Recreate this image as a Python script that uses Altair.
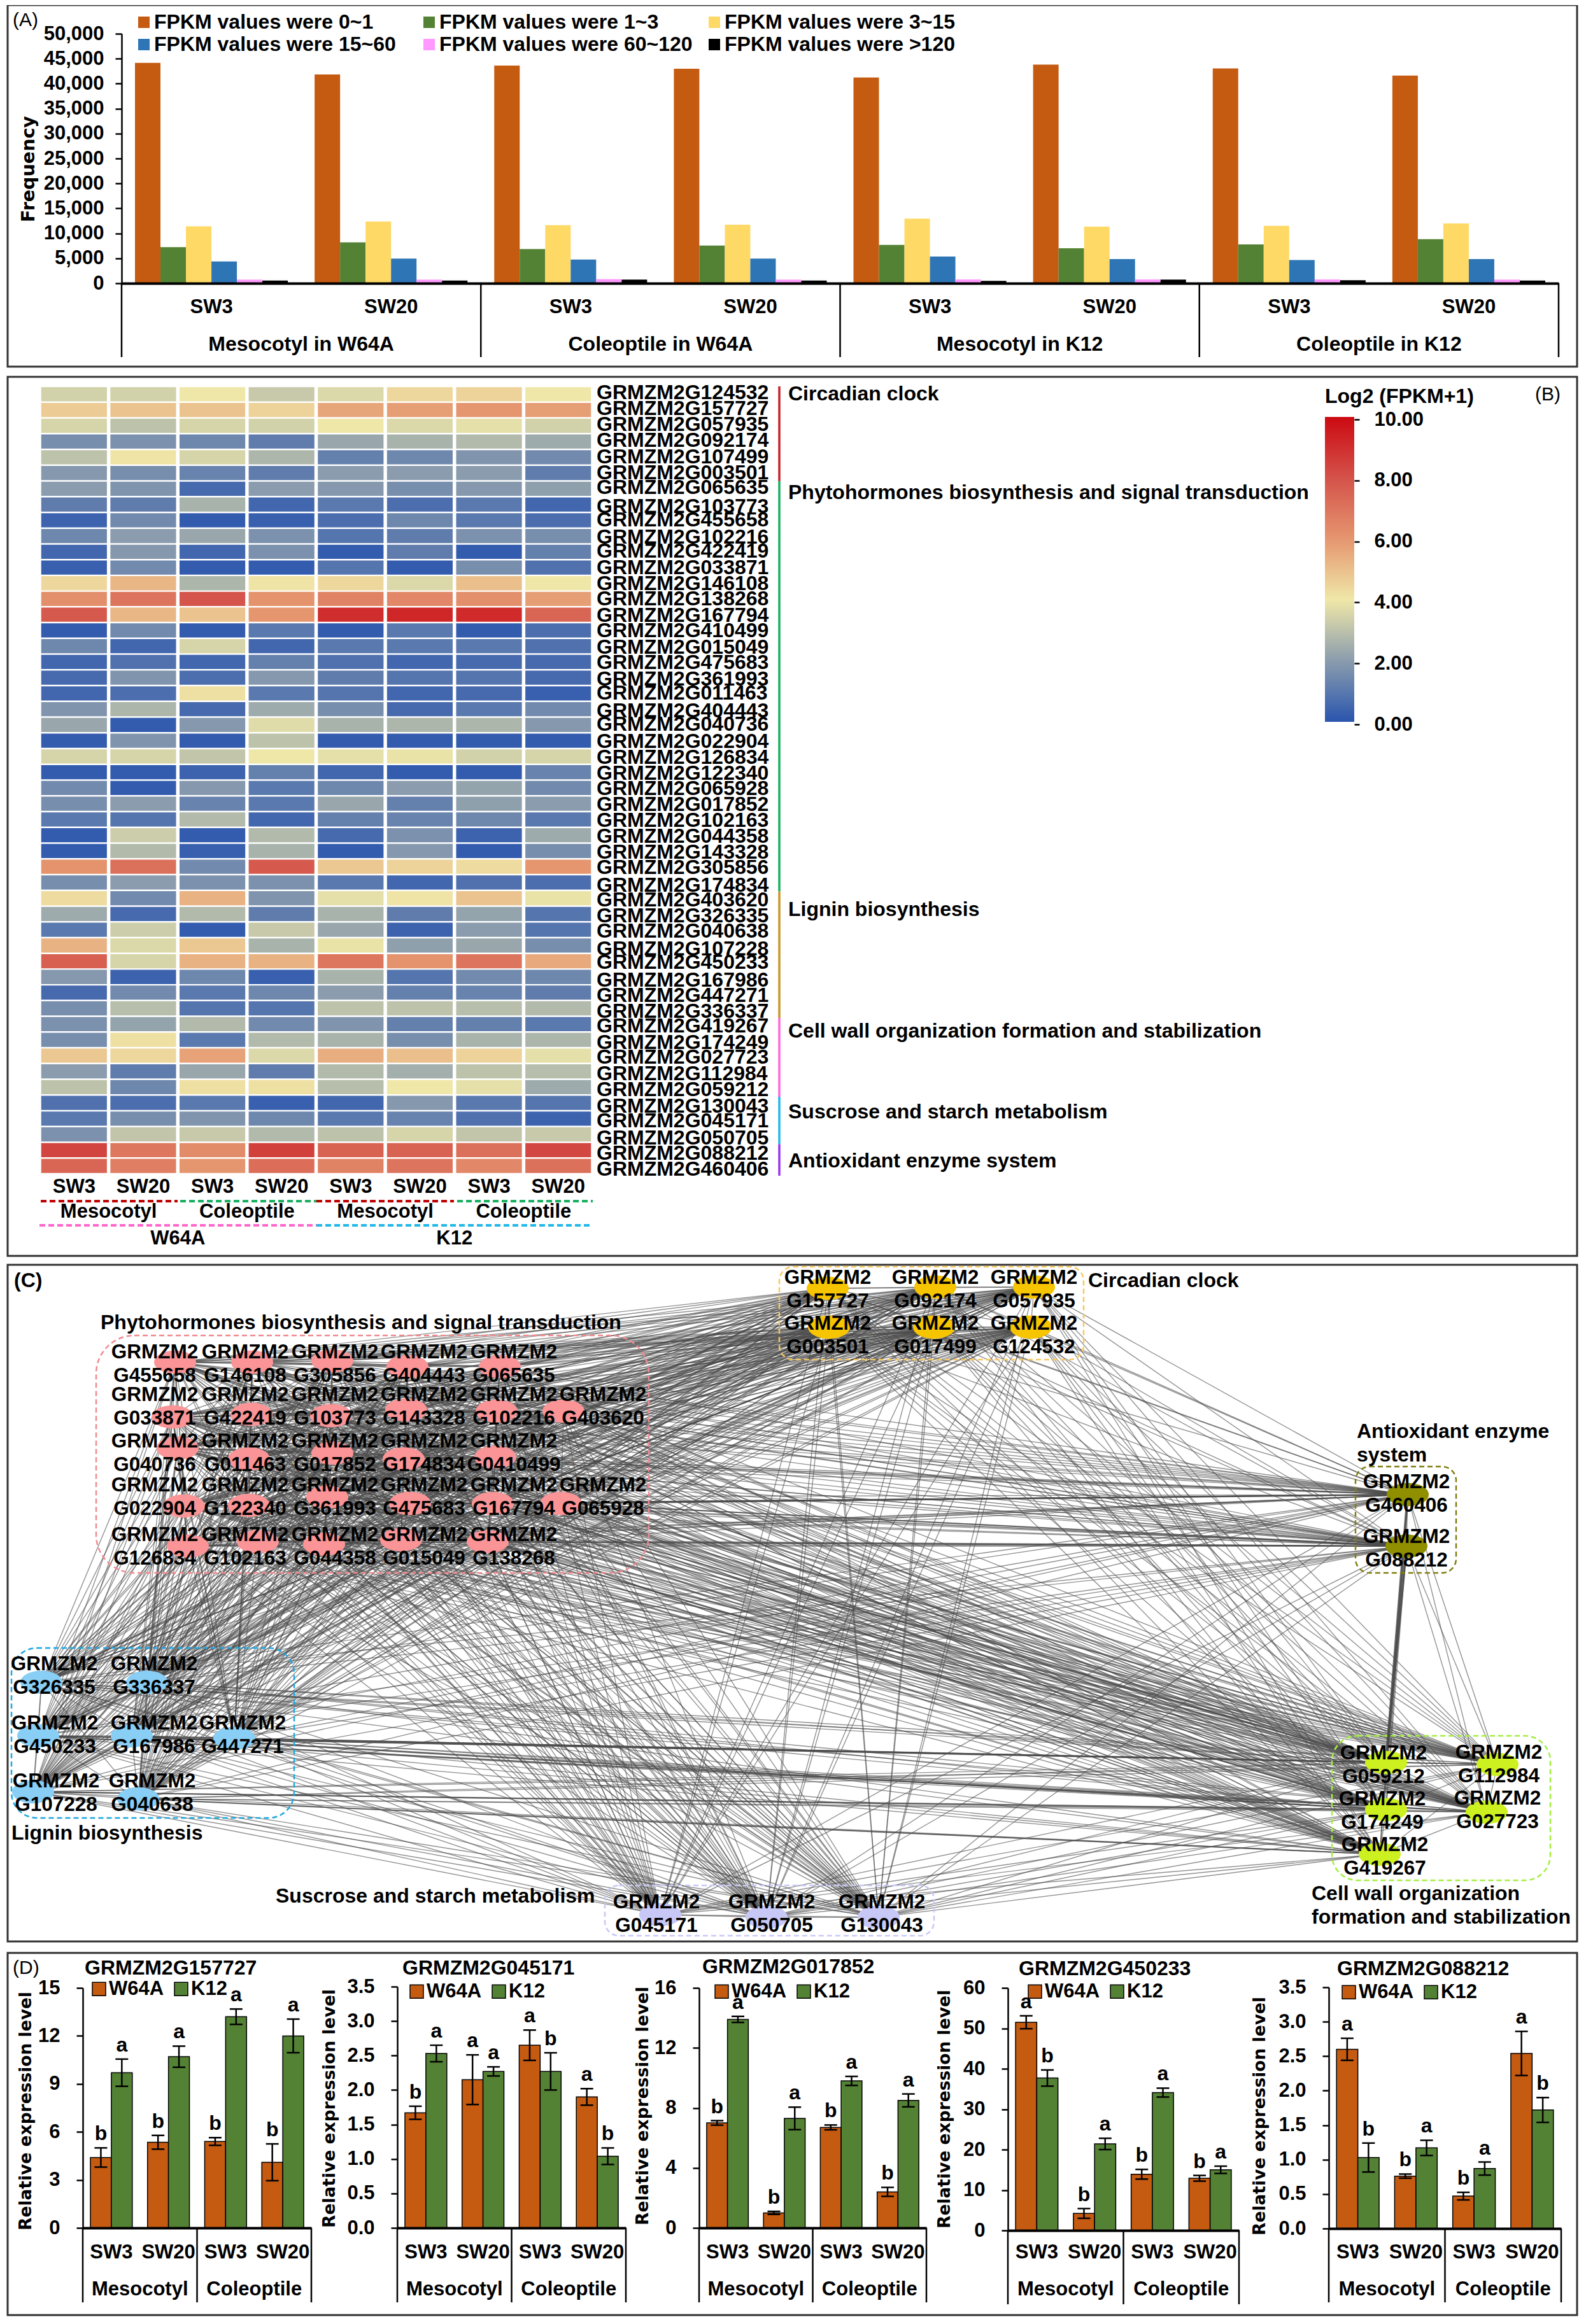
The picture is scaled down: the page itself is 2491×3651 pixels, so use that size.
import altair as alt
import pandas as pd
import itertools

FONT = "Liberation Sans"
WIDE = "DejaVu Sans"
W, H = 2475, 3635
RX = alt.Scale(domain=[0, 2491], range=[-8, 2483])
RY = alt.Scale(domain=[0, 3651], range=[-8, 3643])

# ---------- Panel A data
a_series = ["FPKM values were 0~1", "FPKM values were 1~3", "FPKM values were 3~15",
            "FPKM values were 15~60", "FPKM values were 60~120", "FPKM values were >120"]
a_colors = ["#c55a11", "#548235", "#ffd966", "#2e75b6", "#ff99ff", "#000000"]
a_groups = ["M-W-3", "M-W-20", "C-W-3", "C-W-20", "M-K-3", "M-K-20", "C-K-3", "C-K-20"]
a_sub = ["SW3", "SW20"] * 4
a_tissue = ["Mesocotyl in W64A", "Coleoptile in W64A", "Mesocotyl in K12", "Coleoptile in K12"]
a_vals = [
    [44150, 7240, 11400, 4360, 720, 530],
    [41850, 8200, 12370, 4940, 720, 530],
    [43620, 6860, 11650, 4750, 815, 720],
    [43000, 7570, 11750, 4940, 720, 530],
    [41230, 7670, 12940, 5370, 770, 480],
    [43800, 7000, 11360, 4840, 770, 720],
    [43050, 7770, 11500, 4650, 770, 620],
    [41600, 8820, 11980, 4840, 720, 530],
]

# ---------- Panel B data
b_genes = ["G124532","G157727","G057935","G092174","G107499","G003501","G065635","G103773","G455658","G102216",
           "G422419","G033871","G146108","G138268","G167794","G410499","G015049","G475683","G361993","G011463",
           "G404443","G040736","G022904","G126834","G122340","G065928","G017852","G102163","G044358","G143328",
           "G305856","G174834","G403620","G326335","G040638","G107228","G450233","G167986","G447271","G336337",
           "G419267","G174249","G027723","G112984","G059212","G130043","G045171","G050705","G088212","G460406"]
b_label_y = [617,642,667,692,718,743,766,796,817,844,866,892,917,941,967,991,1017,1041,1067,1089,1117,1138,1165,1190,1215,
             1239,1264,1289,1314,1339,1363,1391,1414,1439,1463,1491,1512,1540,1564,1589,1612,1638,1661,1687,1712,1738,1761,1788,1812,1837]
b_matrix = [
 [3.4,3.4,4.0,3.2,3.6,4.4,4.5,4.0],[4.7,4.9,4.9,4.5,5.6,5.8,6.0,5.8],[3.5,3.0,3.5,3.4,4.0,3.6,3.8,3.4],
 [1.6,1.7,1.4,1.1,2.3,2.6,2.8,2.4],[3.0,4.1,3.5,2.7,1.2,1.4,1.8,1.5],[1.9,1.6,1.3,1.1,2.0,2.0,2.0,1.1],
 [2.0,1.8,0.6,2.0,1.9,1.6,1.9,2.1],[1.1,1.1,2.6,0.5,1.0,0.7,1.0,0.5],[0.4,1.5,0.2,0.3,0.7,1.4,1.0,0.7],
 [1.4,2.0,2.3,1.7,0.9,1.1,1.7,1.6],[0.5,1.9,0.5,1.7,0.2,1.1,0.2,1.2],[0.3,1.5,0.2,0.2,0.9,0.2,1.6,0.8],
 [4.4,5.2,2.7,4.1,4.4,3.6,5.0,4.0],[6.2,7.0,7.9,6.1,6.6,6.4,6.2,5.8],[7.8,5.2,4.9,6.0,9.0,9.2,9.1,7.4],
 [0.2,1.5,0.2,1.0,0.2,1.0,0.2,0.7],[1.4,0.5,3.5,0.5,1.0,1.0,1.0,0.8],[0.5,0.8,0.5,1.2,0.8,0.5,0.6,0.6],
 [0.6,1.8,0.7,1.9,1.1,0.9,0.9,0.6],[0.5,0.7,4.2,1.0,0.9,0.5,0.6,0.3],[1.8,2.7,0.6,2.4,1.6,0.6,1.0,1.5],
 [2.3,0.2,1.9,3.7,2.6,2.7,2.7,1.9],[0.2,1.8,0.2,3.0,0.2,0.2,0.2,0.2],[3.5,3.5,3.1,4.0,3.8,3.9,3.4,3.5],
 [0.2,0.2,0.4,1.2,0.5,0.2,0.2,1.3],[1.5,0.2,1.9,1.0,1.4,2.0,2.2,1.5],[1.6,2.0,1.3,1.0,2.3,1.2,2.1,2.0],
 [1.0,0.9,2.8,0.5,1.2,1.3,1.4,1.0],[0.2,3.3,0.2,2.8,0.6,1.7,0.4,2.4],[0.2,2.8,0.3,2.6,0.2,1.9,0.2,1.6],
 [6.1,7.1,1.5,7.8,4.8,4.5,4.3,6.0],[1.6,2.0,1.7,1.7,1.0,0.5,0.8,0.7],[4.3,1.5,5.3,1.8,3.8,4.1,4.9,3.9],
 [2.4,0.6,2.8,1.1,2.6,1.1,2.2,0.9],[1.0,3.3,0.2,3.2,2.3,0.4,2.0,0.9],[5.3,3.6,4.8,2.6,3.9,2.1,2.3,1.6],
 [7.6,3.5,5.3,5.3,6.9,6.1,7.0,5.5],[1.9,0.4,1.4,0.3,2.6,0.9,1.5,1.4],[0.6,1.5,1.0,1.4,2.0,1.2,1.3,1.1],
 [1.6,2.9,0.9,0.9,3.0,3.0,2.9,2.8],[1.7,2.2,2.8,1.5,1.8,1.2,1.2,1.0],[1.6,4.2,1.0,2.8,2.6,1.6,2.6,2.7],
 [4.8,4.4,5.7,3.6,5.4,5.0,4.5,3.8],[2.0,1.1,2.3,1.1,2.8,2.5,3.0,2.9],[3.0,1.4,4.2,4.2,2.9,4.0,3.8,2.4],
 [0.8,0.7,1.0,0.3,0.5,1.9,1.0,0.9],[1.0,1.6,1.8,1.4,1.0,1.3,0.8,0.4],[1.7,3.1,3.2,2.8,3.0,3.5,3.1,3.2],
 [8.4,6.9,6.3,8.5,7.5,7.5,7.1,8.3],[7.4,6.7,6.0,7.2,6.6,7.0,6.4,7.1],
]
b_cols = ["1", "2", "3", "4", "5", "6", "7", "8"]
b_col_labels = ["SW3", "SW20"] * 4
b_stops = [0, 2, 4, 6, 8, 10]
b_stop_colors = ["#2a55ae", "#8a9cad", "#efe7a8", "#e5966f", "#d4524a", "#cc0a12"]
b_spans = [[0, 6, "#c82128"], [6, 32, "#18b060"], [32, 40, "#c8962a"], [40, 45, "#ff66dd"], [45, 48, "#20b8e8"], [48, 50, "#9933ee"]]

# ---------- Panel C data: module, gene, node x, node y, label x, label y
c_nodes = [
 ("Phyto","G455658",275,2140,243,2125),("Phyto","G146108",396,2140,385,2125),("Phyto","G305856",522,2138,526,2125),
 ("Phyto","G404443",640,2147,666,2125),("Phyto","G065635",785,2147,807,2125),
 ("Phyto","G033871",271,2226,243,2192),("Phyto","G422419",395,2222,385,2192),("Phyto","G103773",520,2224,526,2192),
 ("Phyto","G143328",638,2215,666,2192),("Phyto","G102216",780,2217,807,2192),("Phyto","G403620",885,2217,947,2192),
 ("Phyto","G040736",279,2275,243,2265),("Phyto","G011463",391,2292,385,2265),("Phyto","G017852",522,2283,526,2265),
 ("Phyto","G174834",634,2292,666,2265),("Phyto","G0410499",778,2289,807,2265),
 ("Phyto","G022904",289,2366,243,2334),("Phyto","G122340",391,2365,385,2334),("Phyto","G361993",514,2352,526,2334),
 ("Phyto","G475683",644,2362,666,2334),("Phyto","G167794",774,2362,807,2334),("Phyto","G065928",881,2362,947,2334),
 ("Phyto","G126834",295,2429,243,2412),("Phyto","G102163",405,2422,385,2412),("Phyto","G044358",509,2426,526,2412),
 ("Phyto","G015049",630,2419,666,2412),("Phyto","G138268",766,2422,807,2412),
 ("Lignin","G326335",65,2643,85,2615),("Lignin","G336337",231,2643,242,2615),("Lignin","G450233",60,2727,86,2708),
 ("Lignin","G167986",207,2727,242,2708),("Lignin","G447271",368,2731,381,2708),("Lignin","G107228",52,2815,88,2799),
 ("Lignin","G040638",217,2826,239,2799),
 ("Sucrose","G045171",1037,3008,1031,2989),("Sucrose","G050705",1204,3012,1212,2989),("Sucrose","G130043",1380,3012,1385,2989),
 ("Clock","G157727",1300,2024,1300,2008),("Clock","G092174",1469,2022,1469,2008),("Clock","G057935",1624,2022,1624,2008),
 ("Clock","G003501",1302,2085,1300,2080),("Clock","G017499",1467,2085,1469,2080),("Clock","G124532",1619,2085,1624,2080),
 ("Anti","G460406",2211,2348,2209,2329),("Anti","G088212",2209,2429,2209,2415),
 ("Wall","G059212",2177,2769,2173,2755),("Wall","G112984",2352,2772,2354,2754),("Wall","G174249",2177,2843,2171,2827),
 ("Wall","G027723",2335,2847,2352,2826),("Wall","G419267",2167,2913,2175,2899),
]
c_modules = ["Phyto", "Lignin", "Sucrose", "Clock", "Anti", "Wall"]
c_colors = ["#fa9496", "#88cef5", "#c8c8f6", "#f7c400", "#8f8f00", "#ccf020"]
c_strong = [("G460406", "G059212"), ("G088212", "G059212")]
c_medium = [("G167794", "G460406"), ("G138268", "G088212"), ("G059212", "G167794"), ("G174249", "G138268"),
            ("G027723", "G450233"), ("G059212", "G447271"), ("G174249", "G167986"), ("G419267", "G040638"),
            ("G460406", "G065928"), ("G088212", "G065928"), ("G059212", "G450233"), ("G174249", "G107228")]

# ---------- Panel D data
d_groups = ["M3", "M20", "C3", "C20"]
d_labels = ["SW3", "SW20", "SW3", "SW20"]
d_lines = ["W64A", "K12"]
d_line_colors = ["#c55a11", "#548235"]
d_panels = [
 dict(gene="GRMZM2G157727", ymax=15, ticks=[0,3,6,9,12,15], fmt="d", ax=130, right=489, y0=3500, top=3123, sep=3617,
      tx=133, ty=3092, lx=141, ly=3127, tix=40, tiy=3316,
      w=[4.4,5.35,5.4,4.1], we=[.6,.43,.24,1.15], wl=list("bbbb"),
      k=[9.7,10.7,13.2,12.0], ke=[.85,.66,.48,1.05], kl=list("aaaa")),
 dict(gene="GRMZM2G045171", ymax=3.5, ticks=[0,.5,1,1.5,2,2.5,3,3.5], fmt=".1f", ax=624, right=983, y0=3500, top=3121, sep=3617,
      tx=632, ty=3092, lx=640, ly=3131, tix=517, tiy=3312,
      w=[1.67,2.15,2.65,1.9], we=[.095,.36,.22,.12], wl=list("baaa"),
      k=[2.53,2.27,2.27,1.04], ke=[.12,.066,.27,.12], kl=list("aabb")),
 dict(gene="GRMZM2G017852", ymax=16, ticks=[0,4,8,12,16], fmt="d", ax=1098, right=1455, y0=3500, top=3123, sep=3617,
      tx=1103, ty=3090, lx=1119, ly=3131, tix=1009, tiy=3308,
      w=[7.0,1.0,6.7,2.4], we=[.15,.1,.16,.3], wl=list("bbbb"),
      k=[13.9,7.3,9.8,8.5], ke=[.2,.75,.3,.43], kl=list("aaaa")),
 dict(gene="GRMZM2G450233", ymax=60, ticks=[0,10,20,30,40,50,60], fmt="d", ax=1583, right=1946, y0=3504, top=3123, sep=3620,
      tx=1600, ty=3093, lx=1611, ly=3131, tix=1483, tiy=3313,
      w=[51.5,4.2,13.9,12.9], we=[1.6,1.2,1.2,.7], wl=list("abbb"),
      k=[37.7,21.4,34.1,15], ke=[2.0,1.4,1.1,.9], kl=list("baaa")),
 dict(gene="GRMZM2G088212", ymax=3.5, ticks=[0,.5,1,1.5,2,2.5,3,3.5], fmt=".1f", ax=2087, right=2452, y0=3501, top=3122, sep=3617,
      tx=2100, ty=3093, lx=2104, ly=3132, tix=1978, tiy=3324,
      w=[2.6,.76,.47,2.54], we=[.16,.03,.055,.32], wl=list("abba"),
      k=[1.03,1.17,.87,1.72], ke=[.21,.11,.095,.18], kl=list("baab")),
]

one = pd.DataFrame({"a": [0]})
layers = []


def frame(x1, y1, x2, y2):
    return alt.Chart(one).mark_rect(fill="transparent", stroke="#333333", strokeWidth=3).encode(
        x=alt.value(x1 - 8), x2=alt.value(x2 - 8), y=alt.value(y1 - 8), y2=alt.value(y2 - 8))


def box(x1, y1, x2, y2, color, radius):
    return alt.Chart(one).mark_rect(fill="transparent", stroke=color, strokeWidth=2.5, strokeDash=[8, 5],
                                    cornerRadius=radius).encode(
        x=alt.value(x1 - 8), x2=alt.value(x2 - 8), y=alt.value(y1 - 8), y2=alt.value(y2 - 8))


def seg(x1, x2, y, color, width=4, dash=(9, 5)):
    return alt.Chart(one).mark_rule(stroke=color, strokeWidth=width, strokeDash=list(dash)).encode(
        x=alt.value(x1 - 8), x2=alt.value(x2 - 8), y=alt.value(y - 8))


def labels(texts, xs, ys, size=31, align="center", weight="bold"):
    d = pd.DataFrame({"t": texts, "x": xs, "y": ys})
    return alt.Chart(d).mark_text(font=FONT, fontSize=size, fontWeight=weight, align=align, baseline="middle",
                                  color="black").encode(
        x=alt.X("x:Q", scale=RX, axis=None), y=alt.Y("y:Q", scale=RY, axis=None), text="t:N")


def band_labels(texts, keys, scale, y, size=31):
    d = pd.DataFrame({"t": texts, "k": keys})
    return alt.Chart(d).mark_text(font=FONT, fontSize=size, fontWeight="bold", baseline="middle", color="black").encode(
        x=alt.X("k:N", scale=scale, sort=None, axis=None), y=alt.value(y - 8), text="t:N")


def separators(positions, n, x0, x1, y0, y1):
    d = pd.DataFrame({"p": positions})
    return alt.Chart(d).mark_rule(stroke="black", strokeWidth=2.5).encode(
        x=alt.X("p:Q", scale=alt.Scale(domain=[0, n], range=[x0 - 8, x1 - 8]), axis=None),
        y=alt.value(y0 - 8), y2=alt.value(y1 - 8))


def tissue_text(texts, positions, n, x0, x1, y, size=31):
    d = pd.DataFrame({"t": texts, "p": positions})
    return alt.Chart(d).mark_text(font=FONT, fontSize=size, fontWeight="bold", baseline="middle", color="black").encode(
        x=alt.X("p:Q", scale=alt.Scale(domain=[0, n], range=[x0 - 8, x1 - 8]), axis=None),
        y=alt.value(y - 8), text="t:N")


# ---------- frames
layers += [frame(12, 8, 2477, 576), frame(12, 592, 2477, 1973), frame(12, 1987, 2477, 3050), frame(12, 3068, 2477, 3637)]

# ---------- Panel A
a_rows = [{"g": g, "s": s, "v": v} for g, row in zip(a_groups, a_vals) for s, v in zip(a_series, row)]
a_x = alt.Scale(domain=a_groups, range=[191 - 8, 2448 - 8], paddingInner=42 / 282, paddingOuter=21 / 282)
a_y = alt.Scale(domain=[0, 50000], range=[445 - 8, 53 - 8], nice=False)
layers.append(
    alt.Chart(pd.DataFrame(a_rows)).mark_bar().encode(
        x=alt.X("g:N", scale=a_x, sort=None, axis=alt.Axis(orient="bottom", offset=-(H - (445 - 8)), labels=False, ticks=False,
                                                             title=None, domainColor="black", domainWidth=4, grid=False, zindex=2)),
        xOffset=alt.XOffset("s:N", scale=alt.Scale(domain=a_series)),
        y=alt.Y("v:Q", scale=a_y, axis=alt.Axis(orient="left", offset=-(191 - 8), values=list(range(0, 50001, 5000)), format=",d",
                                                 grid=False, domainColor="black", domainWidth=2.5, tickColor="black", tickWidth=2.5,
                                                 tickSize=10, labelFont=FONT, labelFontSize=31, labelFontWeight="bold",
                                                 labelColor="black", labelPadding=18, labelOverlap=False,
                                                 title="Frequency", titleFont=WIDE, titleFontSize=28.5, titleFontWeight="bold",
                                                 titleColor="black", titleX=44 - 191, titleY=265 - 8, titleBaseline="middle")),
        color=alt.Color("s:N", scale=alt.Scale(domain=a_series, range=a_colors),
                        legend=alt.Legend(orient="none", legendX=200, legendY=19 - 8, columns=3, direction="horizontal", title=None,
                                          symbolType="square", symbolOffset=2, gridAlign="all",
                                          symbolSize=324, symbolStrokeWidth=0, labelFont=FONT, labelFontSize=32, labelFontWeight="bold",
                                          labelColor="black", labelLimit=600, labelOffset=0, columnPadding=16, rowPadding=3, padding=0)),
    ))
layers.append(band_labels(a_sub, a_groups, a_x, 483))
layers.append(separators([0, 2, 4, 6, 8], 8, 191, 2448, 445, 561))
layers.append(tissue_text(a_tissue, [1, 3, 5, 7], 8, 191, 2448, 541, size=32))

# ---------- Panel B
b_rows = [{"g": g, "c": c, "v": v} for g, row in zip(b_genes, b_matrix) for c, v in zip(b_cols, row)]
b_x = alt.Scale(domain=b_cols, range=[62 - 8, 931 - 8], paddingInner=0.05, paddingOuter=0.025)
b_y = alt.Scale(domain=b_genes, range=[607 - 8, 1844 - 8], paddingInner=0.1, paddingOuter=0.05)
layers.append(
    alt.Chart(pd.DataFrame(b_rows)).mark_rect().encode(
        x=alt.X("c:N", scale=b_x, sort=None, axis=None),
        y=alt.Y("g:N", scale=b_y, sort=None, axis=None),
        color=alt.Color("v:Q", scale=alt.Scale(domain=b_stops, range=b_stop_colors, interpolate="rgb"),
                        legend=alt.Legend(orient="none", legendX=2081 - 8, legendY=608 - 8, direction="vertical",
                                          title="Log2 (FPKM+1)", titleFont=FONT, titleFontSize=32, titleFontWeight="bold",
                                          titleColor="black", titlePadding=15, titleLimit=400, gradientLength=479, gradientThickness=46,
                                          values=[], padding=0, gradientStrokeWidth=0)),
    ))
layers.append(labels(["GRMZM2" + g for g in b_genes], [937] * len(b_genes), b_label_y, size=32, align="left"))
layers.append(
    alt.Chart(pd.DataFrame(b_spans, columns=["a", "b", "c"])).mark_rule(strokeWidth=3.5).encode(
        x=alt.value(1224 - 8),
        y=alt.Y("a:Q", scale=alt.Scale(domain=[0, 50], range=[607 - 8, 1847 - 8]), axis=None), y2="b:Q",
        color=alt.Color("c:N", scale=None)))
layers.append(band_labels(b_col_labels, b_cols, b_x, 1865))
layers.append(tissue_text(["Mesocotyl", "Coleoptile", "Mesocotyl", "Coleoptile"], [1, 3, 5, 7], 8, 62, 931, 1904))
layers.append(tissue_text(["W64A", "K12"], [2, 6], 8, 62, 931, 1946))
layers += [seg(64, 279, 1887, "#c00000"), seg(283, 497, 1887, "#18b060"), seg(497, 713, 1887, "#c00000"), seg(718, 931, 1887, "#18b060"),
           seg(62, 497, 1925, "#ff66cc"), seg(497, 931, 1925, "#20b8e8")]
# colour-bar ticks and labels as a real axis on the legend's value scale
layers.append(
    alt.Chart(pd.DataFrame({"v": b_stops})).mark_rule(opacity=0).encode(
        x=alt.value(2127 - 8),
        y=alt.Y("v:Q", scale=alt.Scale(domain=[0, 10], range=[1138 - 8, 659 - 8], nice=False),
                axis=alt.Axis(orient="right", offset=-(W - (2127 - 8)), values=b_stops, format=".2f", grid=False, domain=False, title=None,
                              tickColor="black", tickWidth=2.5, tickSize=8, labelFont=FONT, labelFontSize=31, labelFontWeight="bold",
                              labelColor="black", labelPadding=23, labelOverlap=False, labelFlush=False))))
layers.append(labels(
    ["Circadian clock", "Phytohormones biosynthesis and signal transduction", "Lignin biosynthesis",
     "Cell wall organization formation and stabilization", "Suscrose and starch metabolism", "Antioxidant enzyme system"],
    [1238] * 6, [619, 774, 1429, 1620, 1747, 1824], size=32, align="left"))

# ---------- Panel C
nodes = pd.DataFrame(c_nodes, columns=["m", "g", "x", "y", "lx", "ly"])
by_gene = {r.g: (r.x, r.y) for r in nodes.itertuples()}
edge_rows = [{"x": a.x, "y": a.y, "x2": b.x, "y2": b.y} for a, b in itertools.combinations(nodes.itertuples(), 2)]
strong_rows = [{"x": by_gene[a][0], "y": by_gene[a][1], "x2": by_gene[b][0], "y2": by_gene[b][1]} for a, b in c_strong]
medium_rows = [{"x": by_gene[a][0], "y": by_gene[a][1], "x2": by_gene[b][0], "y2": by_gene[b][1]} for a, b in c_medium]


def edges(rows, width, opacity):
    return alt.Chart(pd.DataFrame(rows)).mark_rule(stroke="#4a4a4a", strokeWidth=width, opacity=opacity).encode(
        x=alt.X("x:Q", scale=RX, axis=None), x2="x2:Q", y=alt.Y("y:Q", scale=RY, axis=None), y2="y2:Q")


layers.append(edges(edge_rows, 1.4, 0.6))
layers.append(edges(medium_rows, 2.2, 0.7))
layers.append(edges(strong_rows, 4, 0.8))
layers.append(
    alt.Chart(nodes).mark_point(filled=True, opacity=1, size=4356,
                                shape="M -1 0 A 1 0.55 0 1 0 1 0 A 1 0.55 0 1 0 -1 0 Z").encode(
        x=alt.X("x:Q", scale=RX, axis=None), y=alt.Y("y:Q", scale=RY, axis=None),
        color=alt.Color("m:N", scale=alt.Scale(domain=c_modules, range=c_colors), legend=None)))
layers += [box(151, 2098, 1019, 2471, "#f08a90", 60), box(18, 2589, 462, 2856, "#1ea7e0", 40), box(950, 2962, 1467, 3041, "#c8c8f8", 22),
           box(1224, 1990, 1702, 2136, "#f7c860", 22), box(2129, 2304, 2287, 2471, "#7f7f10", 22), box(2092, 2727, 2435, 2954, "#a4ee40", 40)]
layers.append(labels(["GRMZM2"] * len(nodes), list(nodes.lx), list(nodes.ly), size=31.5))
layers.append(labels(list(nodes.g), list(nodes.lx), list(nodes.ly + 37), size=31.5))
layers.append(labels(
    ["(C)", "Phytohormones biosynthesis and signal transduction", "Lignin biosynthesis", "Suscrose and starch metabolism",
     "Circadian clock", "Antioxidant enzyme", "system", "Cell wall organization", "formation and stabilization"],
    [22, 158, 18, 433, 1709, 2131, 2131, 2060, 2060],
    [2012, 2078, 2880, 2979, 2012, 2249, 2286, 2975, 3012], size=32, align="left"))

# ---------- Panel D
for p in d_panels:
    rows = []
    for g, wv, we, wl, kv, ke, kl in zip(d_groups, p["w"], p["we"], p["wl"], p["k"], p["ke"], p["kl"]):
        rows.append({"g": g, "l": "W64A", "v": wv, "lo": wv - we, "hi": wv + we, "t": wl})
        rows.append({"g": g, "l": "K12", "v": kv, "lo": kv - ke, "hi": kv + ke, "t": kl})
    df = pd.DataFrame(rows)
    ax, right, y0, top = p["ax"], p["right"], p["y0"], p["top"]
    sx = alt.Scale(domain=d_groups, range=[ax - 8, right - 8], paddingInner=24 / 90, paddingOuter=12 / 90)
    sy = alt.Scale(domain=[0, p["ymax"]], range=[y0 - 8, top - 8], nice=False)
    so = alt.Scale(domain=d_lines)
    ex = alt.X("g:N", scale=sx, sort=None, axis=None)
    eo = alt.XOffset("l:N", scale=so)
    layers.append(
        alt.Chart(df).mark_bar(stroke="black", strokeWidth=1.5).encode(
            x=alt.X("g:N", scale=sx, sort=None, axis=alt.Axis(orient="bottom", offset=-(H - (y0 - 8)), labels=False, ticks=False, title=None,
                                                               domainColor="black", domainWidth=4, grid=False, zindex=2)),
            xOffset=eo,
            y=alt.Y("v:Q", scale=sy, axis=alt.Axis(orient="left", offset=-(ax - 8), values=p["ticks"], format=p["fmt"], grid=False,
                                                    domainColor="black", domainWidth=2.5, tickColor="black", tickWidth=2.5, tickSize=10,
                                                    labelFont=FONT, labelFontSize=31, labelFontWeight="bold", labelColor="black",
                                                    labelPadding=26, labelOverlap=False, title="Relative expression level",
                                                    titleFont=WIDE, titleFontSize=26.5, titleFontWeight="bold", titleColor="black",
                                                    titleX=p["tix"] - ax, titleY=p["tiy"] - 8, titleBaseline="middle")),
            color=alt.Color("l:N", scale=alt.Scale(domain=d_lines, range=d_line_colors),
                            legend=alt.Legend(orient="none", legendX=p["lx"] - 15, legendY=p["ly"] - 8 - 18, columns=2, direction="horizontal", title=None,
                                              symbolType="square", symbolOffset=6, symbolSize=440, symbolStrokeColor="black", symbolStrokeWidth=1.5,
                                              labelFont=FONT, labelFontSize=31, labelFontWeight="bold", labelColor="black",
                                              labelOffset=0, columnPadding=5, padding=0)),
        ))
    layers.append(alt.Chart(df).mark_rule(stroke="black", strokeWidth=2.5).encode(
        x=ex, xOffset=eo, y=alt.Y("lo:Q", scale=sy, axis=None), y2="hi:Q"))
    for field in ["lo", "hi"]:
        layers.append(alt.Chart(df).mark_tick(color="black", orient="horizontal", size=20, thickness=2.5, opacity=1).encode(
            x=ex, xOffset=eo, y=alt.Y(field + ":Q", scale=sy, axis=None)))
    layers.append(alt.Chart(df).mark_text(font=FONT, fontSize=32, fontWeight="bold", baseline="alphabetic", dy=-12, color="black").encode(
        x=ex, xOffset=eo, y=alt.Y("hi:Q", scale=sy, axis=None), text="t:N"))
    layers.append(band_labels(d_labels, d_groups, sx, 3539))
    layers.append(separators([0, 2, 4], 4, ax, right, y0, p["sep"]))
    layers.append(tissue_text(["Mesocotyl", "Coleoptile"], [1, 3], 4, ax, right, 3597))

layers.append(labels([p["gene"] for p in d_panels], [p["tx"] for p in d_panels], [p["ty"] for p in d_panels], size=32, align="left"))
layers.append(labels(["(A)", "(B)", "(D)"], [20, 2411, 20], [32, 620, 3092], size=30, align="left", weight="normal"))

chart = alt.layer(*layers).resolve_scale(x="independent", y="independent", color="independent", xOffset="independent").properties(
    width=W, height=H, padding=0, autosize=alt.AutoSizeParams(type="none"), background="white"
).configure_view(stroke=None)

chart.save("out.html", embed_options={"renderer": "svg", "actions": False})
